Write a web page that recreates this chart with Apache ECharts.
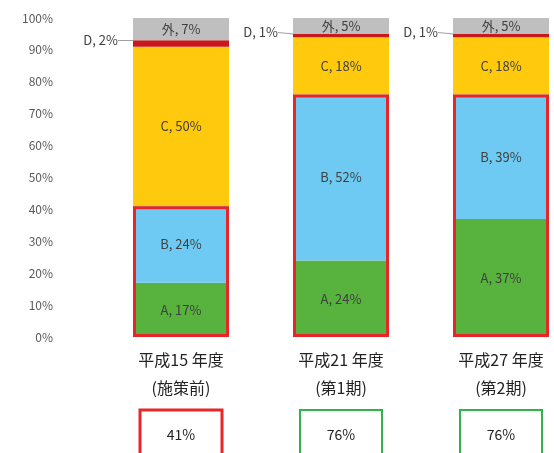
<!DOCTYPE html>
<html><head><meta charset="utf-8">
<script src="https://cdn.jsdelivr.net/npm/echarts@6/dist/echarts.min.js"></script>
<style>html,body{margin:0;padding:0;background:#fff}#c{width:554px;height:453px}</style>
</head><body><div id="c"></div>
<script>
const categories = ['平成15 年度\n(施策前)', '平成21 年度\n(第1期)', '平成27 年度\n(第2期)'];
const seriesNames = ['A', 'B', 'C', 'D', '外'];
const valuesA = [17, 24, 37];
const valuesB = [24, 52, 39];
const valuesC = [50, 18, 18];
const valuesD = [2, 1, 1];
const valuesOther = [7, 5, 5];
const boxStyles = ['r', 'g', 'g'];

const totalsAB = valuesA.map((v, i) => v + valuesB[i]);
const colors = ['#57b33e', '#6ecaf2', '#ffc90e', '#c8181e', '#bfbfbf'];
const font = '"Noto Sans CJK JP", sans-serif';
const BW = 96;

function mk(name, data, color, extra) {
  return Object.assign({
    name, type: 'bar', stack: 'all', data, barWidth: BW,
    itemStyle: { color },
    label: { show: true, position: 'inside', color: '#404040', fontSize: 13, fontFamily: font,
      formatter: p => p.seriesName + ', ' + p.value + '%' }
  }, extra || {});
}

const chart = echarts.init(document.getElementById('c'));
chart.setOption({
  animation: false,
  grid: { left: 101, right: -27, top: 18, bottom: 116, outerBoundsMode: 'none', containLabel: false },
  xAxis: {
    type: 'category', data: categories,
    axisLine: { show: false }, axisTick: { show: false },
    axisLabel: {
      margin: 9, interval: 0, fontFamily: font, fontSize: 16, color: '#222', lineHeight: 28,
      hideOverlap: false,
      formatter: (v, i) => v + '\n{sp|}\n{' + boxStyles[i] + '|' + totalsAB[i] + '%}',
      rich: {
        sp: { lineHeight: 22, height: 22, fontSize: 4 },
        r: { borderColor: '#e8262a', borderWidth: 3, padding: [18, 22, 24, 22], width: 38, align: 'center', fontSize: 14, color: '#222', fontFamily: font },
        g: { borderColor: '#2fb34a', borderWidth: 2, padding: [18, 22, 24, 22], width: 38, align: 'center', fontSize: 14, color: '#222', fontFamily: font }
      }
    }
  },
  yAxis: {
    type: 'value', min: 0, max: 100, interval: 10,
    splitLine: { show: false }, axisLine: { show: false }, axisTick: { show: false },
    axisLabel: { formatter: '{value}%', color: '#595959', fontSize: 12, margin: 48, fontFamily: font }
  },
  series: [
    mk(seriesNames[0], valuesA, colors[0]),
    mk(seriesNames[1], valuesB, colors[1]),
    mk(seriesNames[2], valuesC, colors[2]),
    mk(seriesNames[3], valuesD, colors[3], {
      label: { show: true, position: 'left', distance: 4, color: '#404040', fontSize: 13, fontFamily: font,
        formatter: p => p.seriesName + ', ' + p.value + '%' },
      labelLayout: { dx: -11, dy: -3 },
      labelLine: { show: true, lineStyle: { color: '#a0a0a0', width: 1 } }
    }),
    mk(seriesNames[4], valuesOther, colors[4]),
    {
      name: 'AB', type: 'bar', data: totalsAB, barWidth: BW, barGap: '-100%', z: 5, silent: true,
      itemStyle: { color: 'rgba(0,0,0,0)', borderColor: '#e8262a', borderWidth: 3 },
      label: { show: false }
    }
  ]
});
</script>
</body></html>
